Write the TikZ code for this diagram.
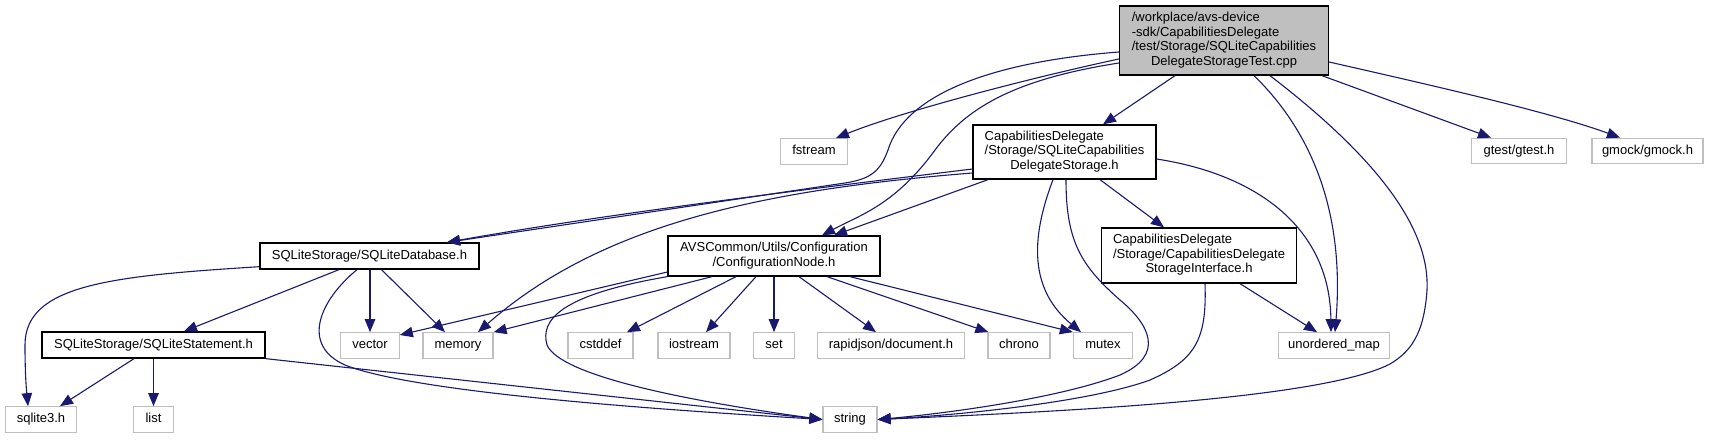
\documentclass[tikz,border=0pt]{standalone}
\usepackage{fontspec}
\setmainfont{Liberation Sans}
\usepackage{xcolor}
\usepackage{tikz}
\usetikzlibrary{arrows.meta}
\definecolor{edgeblue}{HTML}{191970}
\definecolor{boxgray}{HTML}{BFBFBF}
\newcommand{\flbl}[2]{\begin{tabular}{@{}l@{}}#1\\\multicolumn{1}{@{}c@{}}{#2}\end{tabular}}

\begin{document}
\begin{tikzpicture}[x=1pt,y=-1pt,font=\fontsize{13}{14.5}\selectfont,>={Triangle[length=13pt,width=10.5pt]},
  one/.style={text height=9.4pt,text depth=2.8pt},
  hdr/.style={draw=black,line width=1.3pt,inner sep=0pt,minimum height=26pt},
  sys/.style={draw=boxgray,line width=1.2pt,inner sep=0pt,minimum height=25.5pt,one},
  dep/.style={->,edgeblue,line width=1.1pt}]
\path[fill=white,use as bounding box] (0,0) rectangle (1713,439);

\node[hdr,fill=boxgray,minimum width=209pt,minimum height=69pt] (main) at (1224,40.5) {\flbl{/workplace/avs-device\\-sdk/CapabilitiesDelegate\\/test/Storage/SQLiteCapabilities}{DelegateStorageTest.cpp}};
\node[sys,minimum width=66.6pt] (fstream) at (814,151.5) {fstream};
\node[hdr,minimum width=183pt,minimum height=54pt] (cds) at (1064.5,152) {\flbl{CapabilitiesDelegate\\/Storage/SQLiteCapabilities}{DelegateStorage.h}};
\node[sys,minimum width=95pt] (gtest) at (1519,151) {gtest/gtest.h};
\node[sys,minimum width=111pt] (gmock) at (1647.5,151) {gmock/gmock.h};
\node[hdr,one,minimum width=219pt] (sqldb) at (369.5,256) {SQLiteStorage/SQLiteDatabase.h};
\node[hdr,minimum width=212pt,minimum height=40pt] (cfg) at (774,256) {\flbl{AVSCommon/Utils/Configuration}{/ConfigurationNode.h}};
\node[hdr,minimum width=195pt,minimum height=55pt] (cdsi) at (1199,255.5) {\flbl{CapabilitiesDelegate\\/Storage/CapabilitiesDelegate}{StorageInterface.h}};
\node[hdr,one,minimum width=223pt] (stmt) at (153.5,345) {SQLiteStorage/SQLiteStatement.h};
\node[sys,minimum width=58.5pt] (vector) at (370,345.5) {vector};
\node[sys,minimum width=70pt] (memory) at (458,345.5) {memory};
\node[sys,minimum width=65pt] (cstddef) at (600.5,345.5) {cstddef};
\node[sys,minimum width=72pt] (iostream) at (694,345.5) {iostream};
\node[sys,minimum width=40.7pt] (set) at (774,345.5) {set};
\node[sys,minimum width=147pt] (rapidjson) at (891,345.5) {rapidjson/document.h};
\node[sys,minimum width=62pt] (chrono) at (1019,345.5) {chrono};
\node[sys,minimum width=59pt] (mutex) at (1103,345.5) {mutex};
\node[sys,minimum width=111pt] (umap) at (1334,345.5) {unordered\_map};
\node[sys,minimum width=71pt] (sqlite) at (41,419.5) {sqlite3.h};
\node[sys,minimum width=39.5pt] (list) at (153.5,419.5) {list};
\node[sys,minimum width=54pt] (string) at (850,419.5) {string};

\draw[dep] ([yshift=-18.5pt]main.west) .. controls (1030,78) and (900,112) .. ([xshift=22pt]fstream.north);
\draw[dep] ([yshift=-11.5pt]main.west) .. controls (990,62) and (905,95) .. (888,150) .. controls (880,172) and (870,179) .. (845,183) -- ([xshift=77.5pt]sqldb.north);
\draw[dep] ([yshift=-22.5pt]main.west) .. controls (1010,80) and (965,110) .. (935,150) .. controls (895,205) and (860,215) .. ([xshift=48pt]cfg.north);
\draw[dep] ([xshift=-49pt]main.south) -- ([xshift=38.5pt]cds.north);
\draw[dep] ([xshift=98pt]main.south) -- ([xshift=-28pt]gtest.north);
\draw[dep] ([yshift=-21.5pt]main.east) .. controls (1430,85) and (1550,112) .. ([xshift=-27.5pt]gmock.north);
\draw[dep] ([xshift=30pt]main.south) .. controls (1310,130) and (1345,210) .. ([xshift=1pt]umap.north);
\draw[dep] ([xshift=46pt]main.south) .. controls (1380,160) and (1430,230) .. (1427,290) .. controls (1424,335) and (1410,352) .. (1390,364) .. controls (1320,400) and (1050,412) .. (string.east);

\draw[dep] ([yshift=-17pt]cds.west) .. controls (800,190) and (600,215) .. ([xshift=77.5pt]sqldb.north);
\draw[dep] ([yshift=-21pt]cds.west) .. controls (760,190) and (600,225) .. ([xshift=20pt]memory.north);
\draw[dep] ([xshift=-76.5pt]cds.south) -- ([xshift=60pt]cfg.north);
\draw[dep] ([xshift=-11.5pt]cds.south) .. controls (1030,240) and (1030,290) .. ([xshift=-22pt]mutex.north);
\draw[dep] ([xshift=1.5pt]cds.south) .. controls (1066,240) and (1080,265) .. (1120,300) .. controls (1150,325) and (1165,355) .. (1120,375) .. controls (1060,398) and (950,413) .. (string.east);
\draw[dep] ([xshift=35.5pt]cds.south) -- ([xshift=-35pt]cdsi.north);
\draw[dep] ([yshift=-7pt]cds.east) .. controls (1260,175) and (1330,230) .. ([xshift=-3pt]umap.north);

\draw[dep] ([xshift=41pt]cdsi.south) -- ([xshift=-17pt]umap.north);
\draw[dep] ([xshift=6pt]cdsi.south) .. controls (1207,340) and (1195,360) .. (1150,380) .. controls (1090,402) and (960,415) .. (string.east);

\draw[dep] ([yshift=-10.7pt]sqldb.west) .. controls (110,276) and (25,285) .. (25,345) .. controls (25,380) and (27,395) .. ([xshift=-13pt]sqlite.north);
\draw[dep] ([xshift=-30.5pt]sqldb.south) -- ([xshift=30.5pt]stmt.north);
\draw[dep] ([xshift=-12.5pt]sqldb.south) .. controls (320,300) and (300,345) .. (345,365) .. controls (420,395) and (700,412) .. (string.west);
\draw[dep] ([xshift=0.5pt]sqldb.south) -- (vector.north);
\draw[dep] ([xshift=12pt]sqldb.south) -- ([xshift=-13pt]memory.north);

\draw[dep] ([yshift=-16pt]cfg.west) -- ([yshift=10.5pt]vector.east);
\draw[dep] ([xshift=-62pt]cfg.south) -- (memory.north east);
\draw[dep] (cfg.south west) .. controls (560,295) and (540,320) .. (547,345) .. controls (560,375) and (680,400) .. (string.west);
\draw[dep] ([xshift=-38pt]cfg.south) -- ([xshift=26.5pt]cstddef.north);
\draw[dep] ([xshift=-18pt]cfg.south) -- ([xshift=12pt]iostream.north);
\draw[dep] (cfg.south) -- (set.north);
\draw[dep] ([xshift=25pt]cfg.south) -- ([xshift=-15pt]rapidjson.north);
\draw[dep] ([xshift=53pt]cfg.south) -- ([xshift=1pt]chrono.north west);
\draw[dep] ([xshift=76pt]cfg.south) -- (mutex.north west);

\draw[dep] ([xshift=-19.5pt]stmt.south) -- ([xshift=19pt]sqlite.north);
\draw[dep] (stmt.south) -- (list.north);
\draw[dep] (stmt.south east) -- (string.west);
\end{tikzpicture}
\end{document}
